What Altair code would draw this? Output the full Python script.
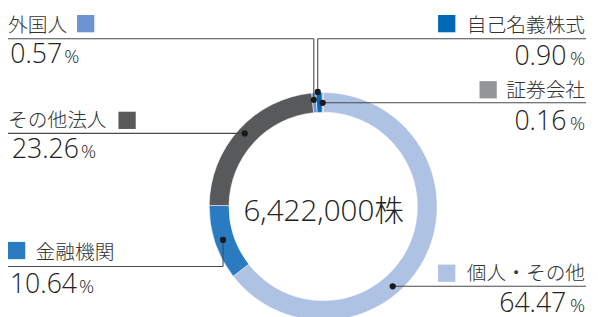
import math
import altair as alt
import pandas as pd

# ---- data ----
categories = ["自己名義株式", "証券会社", "個人・その他", "金融機関", "その他法人", "外国人"]
percentages = [0.90, 0.16, 64.47, 10.64, 23.26, 0.57]
pct_labels = ["0.90", "0.16", "64.47", "10.64", "23.26", "0.57"]
colors = ["#0068b7", "#939598", "#aec2e4", "#2b7bc2", "#58595b", "#6b94d0"]
total_label = "6,422,000株"

# ---- layout (page pixel coords, before the 8px page margin) ----
M = 8
CX, CY = 327.5, 207
R_IN, R_OUT = 95.5, 115.5
START = -0.065

name_x = [593, 593, 593, 36, 8, 8]
name_y = [30, 96, 282, 260, 127, 30]
name_align = ["right", "right", "right", "left", "left", "left"]
sq_x = [444, 486, 444, 8, 120, 78]
sq_y = [13, 80, 266, 243, 111, 13]
SQ = 17.5
num_right = [574, 574, 574, 78, 80, 63]
pct_x = [593, 593, 593, 80, 82, 65]
pct_y = [64, 130, 314, 295, 158, 62]
dots_x = [322, 327, 398, 226, 248, 318]
dots_y = [91, 102, 288, 241, 133, 99]
segments = [
    (322, 37, 594, 37), (322, 37, 322, 91),
    (327, 102, 594, 102),
    (398, 288, 594, 288),
    (8, 268, 226, 268), (226, 268, 226, 241),
    (8, 133, 248, 133),
    (8, 37, 318, 37), (318, 37, 318, 99),
]

FONT = "Noto Sans CJK JP"
NUMFONT = "Open Sans"
TXT = "#333333"

df = pd.DataFrame({
    "cat": categories,
    "pct": percentages,
    "idx": list(range(len(categories))),
    "num": pct_labels,
    "nx": [v - M for v in name_x],
    "ny": [v - M for v in name_y],
    "nalign": name_align,
    "sx": [v - M for v in sq_x],
    "sx2": [v - M + SQ for v in sq_x],
    "sy": [v - M for v in sq_y],
    "sy2": [v - M + SQ for v in sq_y],
    "numx": [v - M for v in num_right],
    "px": [v - M for v in pct_x],
    "py": [v - M for v in pct_y],
    "dx": [v - M for v in dots_x],
    "dy": [v - M for v in dots_y],
    "pct_sign": ["%"] * len(categories),
})
seg_df = pd.DataFrame(
    [(a - M, b - M, c - M, d - M) for a, b, c, d in segments],
    columns=["x", "y", "x2", "y2"],
)
center_df = pd.DataFrame({"t": [total_label]})

color_scale = alt.Scale(domain=categories, range=colors)

arc = alt.Chart(df).mark_arc(
    innerRadius=R_IN, outerRadius=R_OUT, stroke="white", strokeWidth=0.5
).encode(
    theta=alt.Theta("pct:Q", stack=True,
                    scale=alt.Scale(range=[START, START + 2 * math.pi])),
    color=alt.Color("cat:N", scale=color_scale, legend=None),
    order=alt.Order("idx:Q"),
    x=alt.value(CX - M),
    y=alt.value(CY - M),
)

center = alt.Chart(center_df).mark_text(
    font=NUMFONT + ", " + FONT, fontSize=30, fontWeight=300, color="#222222",
    align="center", baseline="alphabetic"
).encode(text="t:N", x=alt.value(328 - M), y=alt.value(222 - M))

segs = alt.Chart(seg_df).mark_rule(color="#4a4a4a", strokeWidth=1.1).encode(
    x=alt.X("x:Q", scale=None), y=alt.Y("y:Q", scale=None),
    x2="x2:Q", y2="y2:Q",
)

dots = alt.Chart(df).mark_circle(size=40, color="#1a1a1a", opacity=1).encode(
    x=alt.X("dx:Q", scale=None), y=alt.Y("dy:Q", scale=None)
)

squares = alt.Chart(df).mark_rect().encode(
    x=alt.X("sx:Q", scale=None), x2="sx2:Q",
    y=alt.Y("sy:Q", scale=None), y2="sy2:Q",
    color=alt.Color("cat:N", scale=color_scale, legend=None),
)

def names(align):
    return alt.Chart(df).transform_filter(
        alt.datum.nalign == align
    ).mark_text(
        font=FONT, fontSize=20, fontWeight=300, color=TXT,
        align=align, baseline="alphabetic"
    ).encode(x=alt.X("nx:Q", scale=None), y=alt.Y("ny:Q", scale=None), text="cat:N")

nums = alt.Chart(df).mark_text(
    font=NUMFONT, fontSize=27, fontWeight=300, color="#222222",
    align="right", baseline="alphabetic"
).encode(x=alt.X("numx:Q", scale=None), y=alt.Y("py:Q", scale=None), text="num:N")

def pcts(align):
    return alt.Chart(df).transform_filter(
        alt.datum.nalign == align
    ).mark_text(
        font=NUMFONT, fontSize=19, fontWeight=300, color="#222222",
        align=align, baseline="alphabetic"
    ).encode(x=alt.X("px:Q", scale=None), y=alt.Y("py:Q", scale=None), text="pct_sign:N")

chart = alt.layer(
    arc, segs, dots, squares, names("left"), names("right"), nums,
    pcts("left"), pcts("right"), center
).properties(
    width=590, height=309,
    autosize=alt.AutoSizeParams(type="none"),
    padding=0,
).configure_view(stroke=None)

chart.save("out.html", embed_options={"renderer": "svg", "actions": False})
